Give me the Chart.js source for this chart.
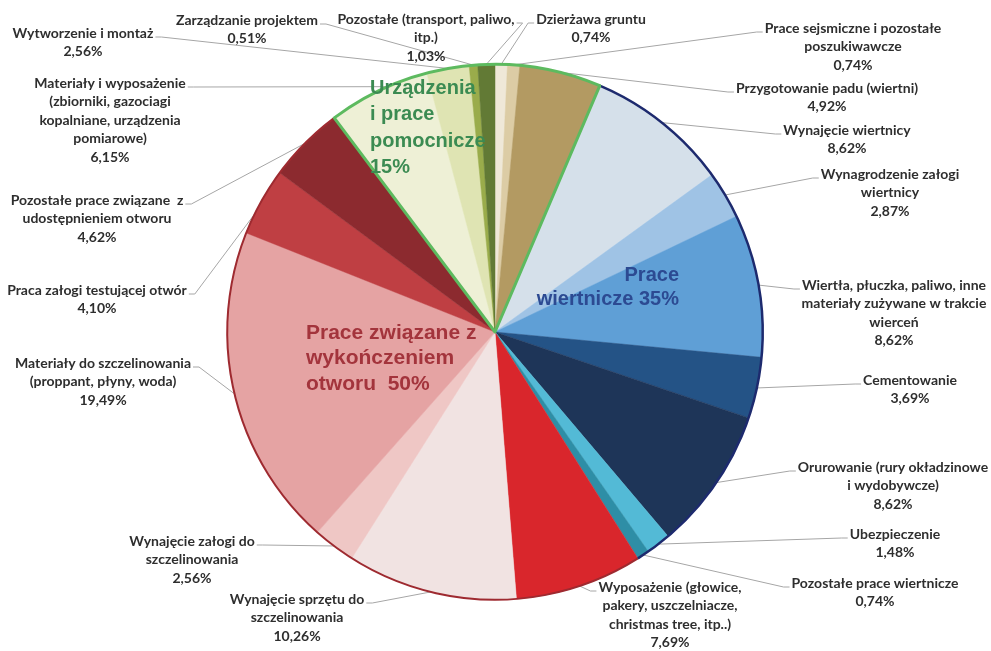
<!DOCTYPE html>
<html lang="pl">
<head>
<meta charset="utf-8">
<title>Struktura kosztów odwiertu</title>
<script src="https://cdn.jsdelivr.net/npm/chart.js@4.4.1/dist/chart.umd.min.js"></script>
<style>
  html, body { margin: 0; padding: 0; background: #fff; }
  #wrap { width: 991px; height: 651px; }
</style>
</head>
<body>
<div id="wrap"><canvas id="chart" width="991" height="651"></canvas></div>
<script>
// cost items, clockwise from 12 o'clock
const categories = [
  ['Dzierżawa gruntu'],
  ['Prace sejsmiczne i pozostałe', 'poszukiwawcze'],
  ['Przygotowanie padu (wiertni)'],
  ['Wynajęcie wiertnicy'],
  ['Wynagrodzenie załogi', 'wiertnicy'],
  ['Wiertła, płuczka, paliwo, inne', 'materiały zużywane w trakcie', 'wierceń'],
  ['Cementowanie'],
  ['Orurowanie (rury okładzinowe', 'i wydobywcze)'],
  ['Ubezpieczenie'],
  ['Pozostałe prace wiertnicze'],
  ['Wyposażenie (głowice,', 'pakery, uszczelniacze,', 'christmas tree, itp..)'],
  ['Wynajęcie sprzętu do', 'szczelinowania'],
  ['Wynajęcie załogi do', 'szczelinowania'],
  ['Materiały do szczelinowania', '(proppant, płyny, woda)'],
  ['Praca załogi testującej otwór'],
  ['Pozostałe prace związane  z', 'udostępnieniem otworu'],
  ['Materiały i wyposażenie', '(zbiorniki, gazociagi', 'kopalniane, urządzenia', 'pomiarowe)'],
  ['Wytworzenie i montaż'],
  ['Zarządzanie projektem'],
  ['Pozostałe (transport, paliwo,', 'itp.)']
];

// share of total cost, %
const shares = [0.74, 0.74, 4.92, 8.62, 2.87, 8.62, 3.69, 8.62, 1.48, 0.74,
                7.69, 10.26, 2.56, 19.49, 4.10, 4.62, 6.15, 2.56, 0.51, 1.03];

// cost groups: caption and member slices
const groupCaptions = [
  ['Urządzenia', 'i prace', 'pomocnicze', '15%'],
  ['Prace', 'wiertnicze 35%'],
  ['Prace związane z', 'wykończeniem', 'otworu  50%']
];
const groupMembers = [
  [16, 17, 18, 19, 0, 1, 2],
  [3, 4, 5, 6, 7, 8, 9],
  [10, 11, 12, 13, 14, 15]
];

const sliceColors = [
  '#efe8d8', '#dccca5', '#b39a62',
  '#d5e0ea', '#9fc3e5', '#5f9fd6', '#245386', '#1e3558', '#53bad6', '#2e8ea6',
  '#d9262c', '#f1e3e2', '#efc7c5', '#e5a3a3', '#bf3f43', '#8c2a2f',
  '#eef0d6', '#dfe4b3', '#9aac4b', '#627a35'
];

// group outline + caption styling
const groupStyle = [
  { stroke: '#5dba5f', width: 3, wedge: true,  color: '#3b8b52', font: 'bold 20px "Liberation Sans", Arial', x: 370, y: 88, lh: 26.5, align: 'left' },
  { stroke: '#1d2a6e', width: 2.5, wedge: false, color: '#2c4a92', font: 'bold 20px "Liberation Sans", Arial', x: 679, y: 275, lh: 24, align: 'right' },
  { stroke: '#9e2a30', width: 2, wedge: false, color: '#a3343c', font: 'bold 21px "Liberation Sans", Arial', x: 306, y: 333, lh: 25.5, align: 'left' }
];

// outside labels: centre x, first line y, side the leader leaves from, position along the slice
const labelLayout = [
  [591, 19, 'L', 0.5], [853, 28, 'L', 0.5], [827, 88, 'L', 0.5], [847, 130, 'L', 0.5],
  [890, 174, 'L', 0.5], [894, 285, 'L', 0.5], [910, 380, 'L', 0.5], [893, 467, 'L', 0.5],
  [895, 534, 'L', 0.5], [875, 583, 'L', 0.5], [670, 587, 'L', 0.5], [297, 599, 'R', 0.5],
  [192, 541, 'R', 0.5], [103, 363, 'R', 0.5], [97, 290, 'R', 0.3], [97, 200, 'R', 0.5],
  [110, 83, 'R', 0.6], [83, 33, 'R', 0.5], [247, 20, 'R', 0.5], [426, 19, 'R', 0.5]
];
const labelFont = 'bold 14px Lato';
const labelLineHeight = 18.5;

const fmtPct = v => v.toFixed(2).replace('.', ',') + '%';

const groupsPlugin = {
  id: 'groups',
  afterDatasetsDraw(chart) {
    const ctx = chart.ctx;
    const arcs = chart.getDatasetMeta(0).data;
    const cx = arcs[0].x, cy = arcs[0].y, r = arcs[0].outerRadius;

    // leader lines and outside labels
    ctx.save();
    ctx.font = labelFont;
    arcs.forEach((arc, i) => {
      const [lx, ly, side, t] = labelLayout[i];
      const lines = categories[i].concat([fmtPct(shares[i])]);
      const w0 = ctx.measureText(lines[0]).width;
      const a = arc.startAngle + (arc.endAngle - arc.startAngle) * t;
      const px = cx + Math.cos(a) * r, py = cy + Math.sin(a) * r;
      const ax = side === 'L' ? lx - w0 / 2 - 2 : lx + w0 / 2 + 2;
      const ay = ly + 4;
      const stub = side === 'L' ? -6 : 6;
      ctx.strokeStyle = '#a6a6a6';
      ctx.lineWidth = 1;
      ctx.beginPath();
      ctx.moveTo(ax, ay);
      ctx.lineTo(ax + stub, ay);
      ctx.lineTo(px, py);
      ctx.stroke();
    });
    ctx.fillStyle = '#2e2e2e';
    ctx.textAlign = 'center';
    ctx.textBaseline = 'middle';
    arcs.forEach((arc, i) => {
      const [lx, ly] = labelLayout[i];
      const lines = categories[i].concat([fmtPct(shares[i])]);
      lines.forEach((s, k) => ctx.fillText(s, lx, ly + k * labelLineHeight));
    });
    ctx.restore();

    // group outlines, green wedge last so it sits on top
    [2, 1, 0].forEach(g => {
      const st = groupStyle[g];
      const mem = groupMembers[g];
      const a0 = arcs[mem[0]].startAngle;
      let a1 = arcs[mem[mem.length - 1]].endAngle;
      if (a1 < a0) a1 += Math.PI * 2;
      ctx.save();
      ctx.strokeStyle = st.stroke;
      ctx.lineWidth = st.width;
      ctx.lineJoin = 'round';
      ctx.beginPath();
      if (st.wedge) {
        ctx.moveTo(cx, cy);
        ctx.arc(cx, cy, r, a0, a1);
        ctx.closePath();
      } else {
        ctx.arc(cx, cy, r, a0, a1);
      }
      ctx.stroke();
      ctx.restore();
    });

    // group captions inside the pie
    groupStyle.forEach((st, g) => {
      ctx.save();
      ctx.font = st.font;
      ctx.fillStyle = st.color;
      ctx.textAlign = st.align;
      ctx.textBaseline = 'middle';
      groupCaptions[g].forEach((s, k) => ctx.fillText(s, st.x, st.y + k * st.lh));
      ctx.restore();
    });
  }
};

new Chart(document.getElementById('chart'), {
  type: 'pie',
  data: {
    labels: categories,
    datasets: [{
      data: shares,
      backgroundColor: sliceColors,
      borderColor: sliceColors,
      borderWidth: 0.5
    }]
  },
  options: {
    responsive: false,
    animation: false,
    devicePixelRatio: 1,
    layout: { padding: { top: 64, bottom: 51, left: 227, right: 228 } },
    plugins: {
      legend: { display: false },
      tooltip: { enabled: false }
    }
  },
  plugins: [groupsPlugin]
});
</script>
</body>
</html>
